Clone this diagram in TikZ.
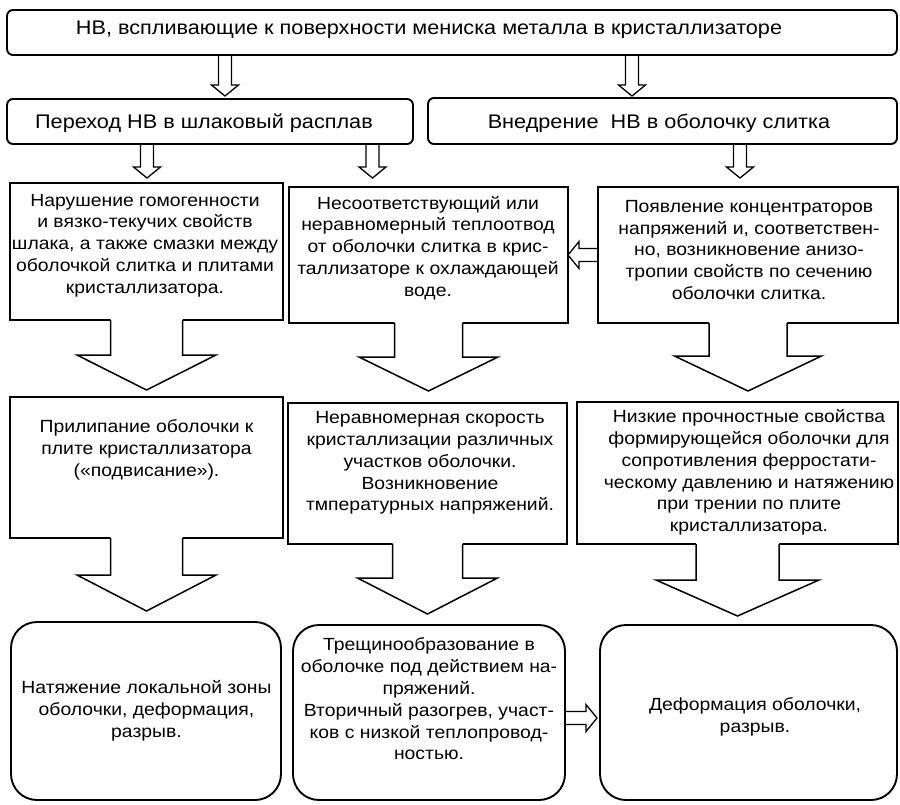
\documentclass[tikz,border=0pt]{standalone}
\usepackage{fontspec}
\setmainfont{Liberation Sans}[FakeStretch=1.1]
\usetikzlibrary{calc}
\tikzset{
  boxbase/.style={draw=black, line width=1.9pt, outer sep=0pt, inner sep=0pt},
  sqbox/.style={boxbase},
  rbox/.style={boxbase, rounded corners=6pt},
  bigrbox/.style={boxbase, rounded corners=26pt},
  txt/.style={align=center, inner sep=0pt, font=\fontsize{17.6}{21.8}\selectfont},
  bigtxt/.style={align=center, inner sep=0pt, font=\fontsize{19.7}{23}\selectfont},
  arrline/.style={draw=black, line width=1.5pt, line join=miter},
}
% big open arrow hanging below a box: #1 node, #2 shaft half width, #3 head half width, #4 shaft length, #5 head length
\newcommand\bigarrowshape[5]{%
  \fill[white] ($(#1.south)+(-#2,-1.8)$) -- ($(#1.south)+(-#2,#4)$) -- ($(#1.south)+(-#3,#4)$) -- ($(#1.south)+(0,#4+#5)$) -- ($(#1.south)+(#3,#4)$) -- ($(#1.south)+(#2,#4)$) -- ($(#1.south)+(#2,-1.8)$) -- cycle;
  \draw[arrline] ($(#1.south)+(-#2,0)$) -- ($(#1.south)+(-#2,#4)$) -- ($(#1.south)+(-#3,#4)$) -- ($(#1.south)+(0,#4+#5)$) -- ($(#1.south)+(#3,#4)$) -- ($(#1.south)+(#2,#4)$) -- ($(#1.south)+(#2,0)$);
}
% small outlined arrow from #1 to tip #2
\newcommand\smallarrowshape[2]{%
  \path ($(#2)!11pt!(#1)$) coordinate (hb);
  \draw[arrline, line width=1.3pt] ($(#1)!6.5pt!90:(#2)$) -- ($(hb)!6.5pt!-90:(#1)$) -- ($(hb)!13.5pt!-90:(#1)$) -- (#2) -- ($(hb)!13.5pt!90:(#1)$) -- ($(hb)!6.5pt!90:(#1)$) -- ($(#1)!6.5pt!-90:(#2)$);
}
\begin{document}
\begin{tikzpicture}[x=1pt, y=-1pt]
\fill[white] (0,0) rectangle (900,804);
\useasboundingbox (0,0) rectangle (900,804);

% ---------- boxes ----------
\node[rbox, minimum width=890pt, minimum height=45pt] (top) at (452,32.5) {};
\node[rbox, minimum width=406pt, minimum height=45pt] (l2) at (210,121.5) {};
\node[rbox, minimum width=469pt, minimum height=46pt] (r2) at (662.5,121) {};

\node[sqbox, minimum width=273pt, minimum height=137pt] (l3) at (146.5,251.5) {};
\node[sqbox, minimum width=279pt, minimum height=136pt] (m3) at (428.5,255) {};
\node[sqbox, minimum width=300pt, minimum height=136pt] (r3) at (748,255) {};

\node[sqbox, minimum width=273pt, minimum height=141pt] (l4) at (146.5,467.5) {};
\node[sqbox, minimum width=279pt, minimum height=141pt] (m4) at (427.5,473.5) {};
\node[sqbox, minimum width=321pt, minimum height=142pt] (r4) at (737.5,473) {};

\node[bigrbox, minimum width=270pt, minimum height=178pt] (l5) at (146,711) {};
\node[bigrbox, minimum width=272pt, minimum height=175pt] (m5) at (429,712.5) {};
\node[bigrbox, minimum width=297pt, minimum height=175pt] (r5) at (748.5,712.5) {};

% ---------- texts ----------
\node[bigtxt] (ttop) at (429,29.5) {НВ, вспливающие к поверхности мениска металла в кристаллизаторе};
\node[bigtxt] (tl2) at (204,123.3) {Переход НВ в шлаковый расплав};
\node[bigtxt] (tr2) at (659,123.3) {Внедрение\ \ НВ в оболочку слитка};

\node[txt] (tl3) at (145,245.5) {Нарушение гомогенности\\и вязко-текучих свойств\\шлака, а также смазки между\\оболочкой слитка и плитами\\кристаллизатора.};
\node[txt] (tm3) at (428,248) {Несоответствующий или\\неравномерный теплоотвод\\от оболочки слитка в крис-\\таллизаторе к охлаждающей\\воде.};
\node[txt] (tr3) at (749,250) {Появление концентраторов\\напряжений и, соответствен-\\но, возникновение анизо-\\тропии свойств по сечению\\оболочки слитка.};

\node[txt] (tl4) at (146.5,450) {Прилипание оболочки к\\плите кристаллизатора\\(«подвисание»).};
\node[txt] (tm4) at (430,463) {Неравномерная скорость\\кристаллизации различных\\участков оболочки.\\Возникновение\\тмпературных напряжений.};
\node[txt] (tr4) at (749,472.5) {Низкие прочностные свойства\\формирующейся оболочки для\\сопротивления ферростати-\\ческому давлению и натяжению\\при трении по плите\\кристаллизатора.};

\node[txt] (tl5) at (146.5,711) {Натяжение локальной зоны\\оболочки, деформация,\\разрыв.};
\node[txt] (tm5) at (429,699) {Трещинообразование в\\оболочке под действием на-\\пряжений.\\Вторичный разогрев, участ-\\ков с низкой теплопровод-\\ностью.};
\node[txt] (tr5) at (755,717) {Деформация оболочки,\\разрыв.};

% ---------- big arrows ----------
\bigarrowshape{l3}{36}{69.5}{35}{35}
\bigarrowshape{m3}{34}{69.5}{34}{34}
\bigarrowshape{r3}{39}{73.5}{33}{35}
\bigarrowshape{l4}{36}{69.5}{37}{36}
\bigarrowshape{m4}{35}{70}{34}{36}
\bigarrowshape{r4}{41.5}{81.5}{36}{36}

% ---------- small arrows ----------
\coordinate (s1a) at (225,55);   \coordinate (s1b) at (225,96);
\coordinate (s2a) at (632,55);   \coordinate (s2b) at (632,96);
\coordinate (s3a) at (147,144);  \coordinate (s3b) at (147,178);
\coordinate (s4a) at (372.5,144);\coordinate (s4b) at (372.5,178);
\coordinate (s5a) at (740,144);  \coordinate (s5b) at (740,178);
\coordinate (h2a) at (565,718);  \coordinate (h2b) at (597,718);
\smallarrowshape{s1a}{s1b}
\smallarrowshape{s2a}{s2b}
\smallarrowshape{s3a}{s3b}
\smallarrowshape{s4a}{s4b}
\smallarrowshape{s5a}{s5b}
\smallarrowshape{r3.west}{m3.east}
\smallarrowshape{h2a}{h2b}
\end{tikzpicture}
\end{document}
